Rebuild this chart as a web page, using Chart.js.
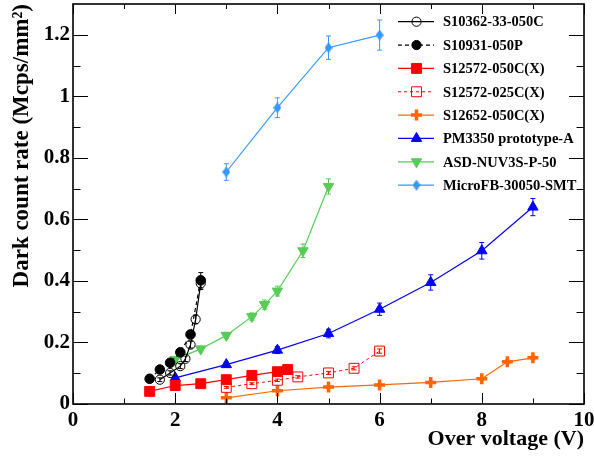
<!DOCTYPE html>
<html>
<head>
<meta charset="utf-8">
<script src="https://cdn.jsdelivr.net/npm/chart.js@4/dist/chart.umd.min.js"></script>
<style>
  html, body { margin: 0; padding: 0; background: #fff; }
  #wrap { width: 594px; height: 460px; }
</style>
</head>
<body>
<div id="wrap"><canvas id="c" width="594" height="460"></canvas></div>
<script>
// ---- Axis ticks ----
const xMajorTicks = [0, 2, 4, 6, 8, 10];
const xMinorTicks = [1, 3, 5, 7, 9];
const yMajorTicks = [0, 0.2, 0.4, 0.6, 0.8, 1.0, 1.2];
const yMinorTicks = [0.1, 0.3, 0.5, 0.7, 0.9, 1.1];

// ---- Series: over voltage (V), dark count rate (Mcps/mm^2), uncertainty ----
const s10362Name = 'S10362-33-050C';
const s10362X = [1.7, 1.9, 2.1, 2.2, 2.3, 2.4, 2.5];
const s10362Y = [0.079, 0.101, 0.123, 0.147, 0.193, 0.275, 0.392];
const s10362Err = [0.006, 0.007, 0.008, 0.009, 0.011, 0.014, 0.020];

const s10931Name = 'S10931-050P';
const s10931X = [1.5, 1.7, 1.9, 2.1, 2.3, 2.5];
const s10931Y = [0.082, 0.112, 0.134, 0.168, 0.226, 0.402];
const s10931Err = [0.005, 0.006, 0.007, 0.009, 0.012, 0.025];

const s12572aName = 'S12572-050C(X)';
const s12572aX = [1.5, 2.0, 2.5, 3.0, 3.5, 4.0, 4.2];
const s12572aY = [0.041, 0.060, 0.066, 0.079, 0.093, 0.105, 0.112];
const s12572aErr = [0.003, 0.003, 0.003, 0.004, 0.004, 0.005, 0.005];

const s12572bName = 'S12572-025C(X)';
const s12572bX = [3.0, 3.5, 4.0, 4.4, 5.0, 5.5, 6.0];
const s12572bY = [0.054, 0.066, 0.077, 0.088, 0.101, 0.116, 0.172];
const s12572bErr = [0.003, 0.003, 0.004, 0.004, 0.005, 0.005, 0.007];

const s12652Name = 'S12652-050C(X)';
const s12652X = [3, 4, 5, 6, 7, 8, 8.5, 9];
const s12652Y = [0.020, 0.043, 0.055, 0.062, 0.070, 0.082, 0.137, 0.150];
const s12652Err = [0.002, 0.003, 0.003, 0.003, 0.004, 0.004, 0.006, 0.006];

const pm3350Name = 'PM3350 prototype-A';
const pm3350X = [2, 3, 4, 5, 6, 7, 8, 9];
const pm3350Y = [0.085, 0.128, 0.175, 0.229, 0.308, 0.395, 0.498, 0.640];
const pm3350Err = [0.006, 0.008, 0.011, 0.014, 0.020, 0.025, 0.027, 0.028];

const asdName = 'ASD-NUV3S-P-50';
const asdX = [2, 2.5, 3, 3.5, 3.75, 4, 4.5, 5];
const asdY = [0.145, 0.179, 0.223, 0.284, 0.323, 0.367, 0.498, 0.707];
const asdErr = [0.008, 0.009, 0.010, 0.012, 0.015, 0.016, 0.022, 0.025];

const microName = 'MicroFB-30050-SMT';
const microX = [3, 4, 5, 6];
const microY = [0.754, 0.963, 1.158, 1.199];
const microErr = [0.027, 0.032, 0.038, 0.049];

// ---- Styling ----
const SERIF = '"Liberation Serif", "DejaVu Serif", serif';

// tall diamond marker
function makeDiamond(color) {
  const cv = document.createElement('canvas');
  cv.width = 8; cv.height = 11;
  const g = cv.getContext('2d');
  g.fillStyle = color;
  g.beginPath();
  g.moveTo(4, 0); g.lineTo(8, 5.5); g.lineTo(4, 11); g.lineTo(0, 5.5);
  g.closePath(); g.fill();
  return cv;
}

function pts(xs, ys) { return xs.map((x, i) => ({ x: x, y: ys[i] })); }

function series(label, xs, ys, errs, color, opts) {
  return Object.assign({
    label: label,
    data: pts(xs, ys),
    errors: errs,
    borderColor: color,
    backgroundColor: color,
    pointBorderColor: color,
    pointBackgroundColor: color,
    borderWidth: 1.2,
    pointBorderWidth: 1,
    tension: 0,
    fill: false,
    clip: false
  }, opts);
}

const datasets = [
  series(s10362Name, s10362X, s10362Y, s10362Err, '#000000',
    { pointStyle: 'circle', pointRadius: 4.6, pointBackgroundColor: 'rgba(0,0,0,0)' }),
  series(s10931Name, s10931X, s10931Y, s10931Err, '#000000',
    { pointStyle: 'circle', pointRadius: 4.8, borderDash: [4, 3] }),
  series(s12572aName, s12572aX, s12572aY, s12572aErr, '#ff0000',
    { pointStyle: 'rect', pointRadius: 7 }),
  series(s12572bName, s12572bX, s12572bY, s12572bErr, '#ff0000',
    { pointStyle: 'rect', pointRadius: 7, pointBackgroundColor: 'rgba(0,0,0,0)', borderDash: [3, 3], borderWidth: 1 }),
  series(s12652Name, s12652X, s12652Y, s12652Err, '#ff6600',
    { pointStyle: 'cross', pointRadius: 5.5, pointBorderWidth: 3.5 }),
  series(pm3350Name, pm3350X, pm3350Y, pm3350Err, '#0000ff',
    { pointStyle: 'triangle', pointRadius: 6 }),
  series(asdName, asdX, asdY, asdErr, '#55cc55',
    { pointStyle: 'triangle', pointRadius: 6, pointRotation: 180 }),
  series(microName, microX, microY, microErr, '#3399ff',
    { pointStyle: makeDiamond('#3399ff'), pointRadius: 5 })
];

// vertical error bars with small caps
const errorBars = {
  id: 'errorBars',
  beforeDatasetsDraw(chart) {
    const { ctx, scales: { x, y } } = chart;
    ctx.save();
    chart.data.datasets.forEach((ds) => {
      if (!ds.errors) return;
      ctx.strokeStyle = ds.borderColor;
      ctx.lineWidth = 1;
      ds.data.forEach((p, i) => {
        const e = ds.errors[i];
        if (!e) return;
        const px = x.getPixelForValue(p.x);
        const y1 = y.getPixelForValue(p.y + e);
        const y2 = y.getPixelForValue(p.y - e);
        ctx.beginPath();
        ctx.moveTo(px, y1); ctx.lineTo(px, y2);
        ctx.moveTo(px - 2.5, y1); ctx.lineTo(px + 2.5, y1);
        ctx.moveTo(px - 2.5, y2); ctx.lineTo(px + 2.5, y2);
        ctx.stroke();
      });
    });
    ctx.restore();
  }
};

// closed frame with inward ticks on all four sides
const frameTicks = {
  id: 'frameTicks',
  afterDraw(chart) {
    const { ctx, chartArea: { left, right, top, bottom }, scales: { x, y } } = chart;
    ctx.save();
    ctx.strokeStyle = '#000';
    ctx.lineWidth = 1;
    ctx.beginPath();
    const xt = (vals, lb, lt) => vals.forEach(v => {
      const px = Math.round(x.getPixelForValue(v)) + 0.5;
      ctx.moveTo(px, bottom); ctx.lineTo(px, bottom - lb);
      ctx.moveTo(px, top); ctx.lineTo(px, top + lt);
    });
    const yt = (vals, len) => vals.forEach(v => {
      const py = Math.round(y.getPixelForValue(v)) + 0.5;
      ctx.moveTo(left, py); ctx.lineTo(left + len, py);
      ctx.moveTo(right, py); ctx.lineTo(right - len, py);
    });
    xt(xMajorTicks, 11, 10);
    xt(xMinorTicks, 5.5, 5);
    yt(yMajorTicks, 15);
    yt(yMinorTicks, 7.5);
    ctx.stroke();
    ctx.lineWidth = 1.6;
    ctx.strokeRect(left, top, right - left, bottom - top);
    ctx.restore();
  }
};

// legend in the upper right of the frame: line sample with marker, then name
const legendRadius = { circle: 4.6, rect: 7, cross: 5.5, triangle: 6 };
const sampleLegend = {
  id: 'sampleLegend',
  afterDraw(chart) {
    const { ctx } = chart;
    const x0 = 398, x1 = 434, xm = 416.5, xt = 443, y0 = 21.7, dy = 23.35;
    ctx.save();
    chart.data.datasets.forEach((ds, i) => {
      const yy = y0 + i * dy;
      ctx.strokeStyle = ds.borderColor;
      ctx.lineWidth = ds.borderWidth;
      ctx.setLineDash(ds.borderDash || []);
      ctx.beginPath(); ctx.moveTo(x0, yy); ctx.lineTo(x1, yy); ctx.stroke();
      ctx.setLineDash([]);
      ctx.fillStyle = ds.pointBackgroundColor;
      ctx.strokeStyle = ds.pointBorderColor;
      ctx.lineWidth = ds.pointBorderWidth;
      const r = typeof ds.pointStyle === 'string' ? legendRadius[ds.pointStyle] : 5;
      Chart.helpers.drawPoint(ctx, {
        pointStyle: ds.pointStyle,
        rotation: ds.pointRotation || 0,
        radius: r,
        borderWidth: ds.pointBorderWidth
      }, xm, yy);
      ctx.fillStyle = '#000';
      ctx.font = 'bold 14.5px ' + SERIF;
      ctx.textAlign = 'left';
      ctx.textBaseline = 'middle';
      ctx.fillText(ds.label, xt, yy + 1);
    });
    ctx.restore();
  }
};

new Chart(document.getElementById('c'), {
  type: 'line',
  data: { datasets: datasets },
  options: {
    responsive: false,
    animation: false,
    events: [],
    layout: { autoPadding: false, padding: { top: 4, right: 10, left: 0, bottom: 0 } },
    plugins: { legend: { display: false }, tooltip: { enabled: false } },
    scales: {
      x: {
        type: 'linear',
        min: 0, max: 10,
        afterBuildTicks: (s) => { s.ticks = xMajorTicks.map(v => ({ value: v })); },
        afterFit: (s) => { s.height = 56; s.paddingLeft = 0; s.paddingRight = 0; },
        grid: { display: false, drawTicks: false, tickLength: 0 },
        border: { display: false },
        ticks: {
          padding: 4,
          maxRotation: 0,
          autoSkip: false,
          color: '#000',
          font: { family: SERIF, size: 21, weight: 'bold' },
          callback: (v) => String(v)
        },
        title: {
          display: true, align: 'end',
          text: 'Over voltage (V)',
          color: '#000',
          padding: { top: 0, bottom: 7 },
          font: { family: SERIF, size: 22, weight: 'bold' }
        }
      },
      y: {
        type: 'linear',
        min: 0, max: 1.3,
        afterBuildTicks: (s) => { s.ticks = yMajorTicks.map(v => ({ value: v })); },
        afterFit: (s) => { s.width = 73; s.paddingTop = 0; s.paddingBottom = 0; },
        grid: { display: false, drawTicks: false, tickLength: 0 },
        border: { display: false },
        ticks: {
          padding: 3,
          autoSkip: false,
          color: '#000',
          font: { family: SERIF, size: 21, weight: 'bold' },
          callback: (v) => String(+Number(v).toFixed(1))
        },
        title: {
          display: true, align: 'end',
          text: 'Dark count rate (Mcps/mm²)',
          color: '#000',
          padding: { top: 8, bottom: 0 },
          font: { family: SERIF, size: 23, weight: 'bold' }
        }
      }
    }
  },
  plugins: [errorBars, frameTicks, sampleLegend]
});
</script>
</body>
</html>
